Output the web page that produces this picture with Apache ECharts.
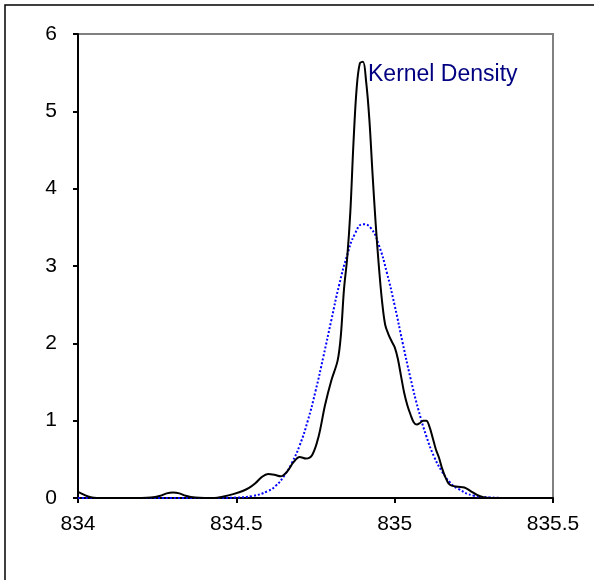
<!DOCTYPE html>
<html>
<head>
<meta charset="utf-8">
<script src="https://cdn.jsdelivr.net/npm/echarts@6/dist/echarts.min.js"></script>
<style>
  html, body { margin: 0; padding: 0; background: #fff; }
  #chart { width: 594px; height: 580px; }
</style>
</head>
<body>
<div id="chart"></div>
<script>
// kernel density curve (black)
var kdeX = [834.00, 834.02, 834.04, 834.06, 834.10, 834.20, 834.23, 834.26, 834.28, 834.30,
  834.32, 834.34, 834.37, 834.40, 834.43, 834.46, 834.49, 834.52, 834.54, 834.56,
  834.58, 834.60, 834.62, 834.64, 834.66, 834.68, 834.70, 834.72, 834.74, 834.76,
  834.78, 834.80, 834.82, 834.83, 834.84, 834.85, 834.86, 834.87, 834.88, 834.89,
  834.90, 834.91, 834.92, 834.93, 834.94, 834.95, 834.96, 834.97, 834.98, 834.99,
  835.00, 835.01, 835.02, 835.03, 835.04, 835.05, 835.06, 835.07, 835.08, 835.09,
  835.10, 835.11, 835.12, 835.13, 835.14, 835.15, 835.16, 835.17, 835.18, 835.20,
  835.22, 835.24, 835.26, 835.28, 835.30, 835.50]
var kdeY = [0.08, 0.04, 0.01, 0, 0, 0, 0.005, 0.03, 0.06, 0.07,
  0.06, 0.03, 0.005, 0, 0, 0.02, 0.05, 0.09, 0.13, 0.19,
  0.27, 0.31, 0.30, 0.28, 0.34, 0.46, 0.53, 0.51, 0.56, 0.8,
  1.2, 1.52, 1.78, 2.1, 2.7, 3.1, 3.7, 4.6, 5.3, 5.62,
  5.64, 5.38, 4.9, 4.2, 3.55, 3.0, 2.55, 2.24, 2.12, 2.03,
  1.95, 1.8, 1.58, 1.36, 1.2, 1.08, 0.98, 0.95, 0.97, 1.0,
  1.0, 0.92, 0.78, 0.63, 0.52, 0.38, 0.27, 0.19, 0.16, 0.145,
  0.135, 0.09, 0.04, 0.01, 0, 0]

// normal curve (blue dotted)
var normX = [834.00, 834.40, 834.45, 834.50, 834.55, 834.60, 834.625, 834.65, 834.675, 834.70,
  834.725, 834.75, 834.775, 834.80, 834.825, 834.85, 834.875, 834.90, 834.925, 834.95,
  834.975, 835.00, 835.025, 835.05, 835.075, 835.10, 835.125, 835.15, 835.175, 835.20,
  835.25, 835.30, 835.35, 835.50]
var normY = [0, 0, 0.001, 0.006, 0.025, 0.09, 0.16, 0.28, 0.45, 0.68,
  0.99, 1.38, 1.83, 2.3, 2.76, 3.14, 3.42, 3.54, 3.49, 3.27,
  2.92, 2.49, 2.01, 1.55, 1.14, 0.8, 0.53, 0.34, 0.2, 0.12,
  0.03, 0.008, 0.001, 0]

var xTicks = { min: 834, max: 835.5, step: 0.5 }
var yTicks = { min: 0, max: 6, step: 1 }
var labelText = 'Kernel Density'

var myChart = echarts.init(document.getElementById('chart'))

var pairs = function (xs, ys) {
  return xs.map(function (x, i) { return [x, ys[i]] })
}

var option = {
  backgroundColor: '#fff',
  animation: false,
  grid: {
    left: 78,
    top: 34,
    right: 41,
    bottom: 82,
    show: true,
    borderColor: '#808080',
    borderWidth: 2
  },
  graphic: [
    {
      type: 'rect',
      shape: { x: 5, y: 5, width: 700, height: 700 },
      style: { fill: 'none', stroke: '#000', lineWidth: 1.5 },
      z: 100
    }
  ],
  xAxis: {
    type: 'value',
    min: xTicks.min,
    max: xTicks.max,
    interval: xTicks.step,
    axisLine: { onZero: false, lineStyle: { color: '#000', width: 2 } },
    axisTick: { show: true, length: 5, lineStyle: { color: '#000', width: 2 } },
    axisLabel: {
      color: '#000',
      fontFamily: 'Liberation Sans, Arial',
      fontSize: 21,
      margin: 16
    },
    splitLine: { show: false }
  },
  yAxis: {
    type: 'value',
    min: yTicks.min,
    max: yTicks.max,
    interval: yTicks.step,
    axisLine: { show: true, lineStyle: { color: '#000', width: 2 } },
    axisTick: { show: true, length: 5, lineStyle: { color: '#000', width: 2 } },
    axisLabel: {
      color: '#000',
      fontFamily: 'Liberation Sans, Arial',
      fontSize: 21,
      margin: 21
    },
    splitLine: { show: false }
  },
  series: [
    {
      name: 'normal',
      type: 'line',
      data: pairs(normX, normY),
      smooth: true,
      symbol: 'none',
      lineStyle: { color: '#0000ff', width: 2, type: [2, 2] },
      z: 2
    },
    {
      name: 'kde',
      type: 'line',
      data: pairs(kdeX, kdeY),
      smooth: 0.35,
      symbol: 'none',
      lineStyle: { color: '#000', width: 2 },
      z: 3,
      markPoint: {
        symbol: 'rect',
        symbolSize: 0,
        data: [{ coord: [834.9, 5.66] }],
        label: {
          show: true,
          formatter: labelText,
          position: 'insideLeft',
          offset: [0, 14],
          color: '#000080',
          fontFamily: 'Liberation Sans, Arial',
          fontSize: 23
        }
      }
    }
  ]
}

myChart.setOption(option)
window.onresize = myChart.resize
</script>
</body>
</html>
